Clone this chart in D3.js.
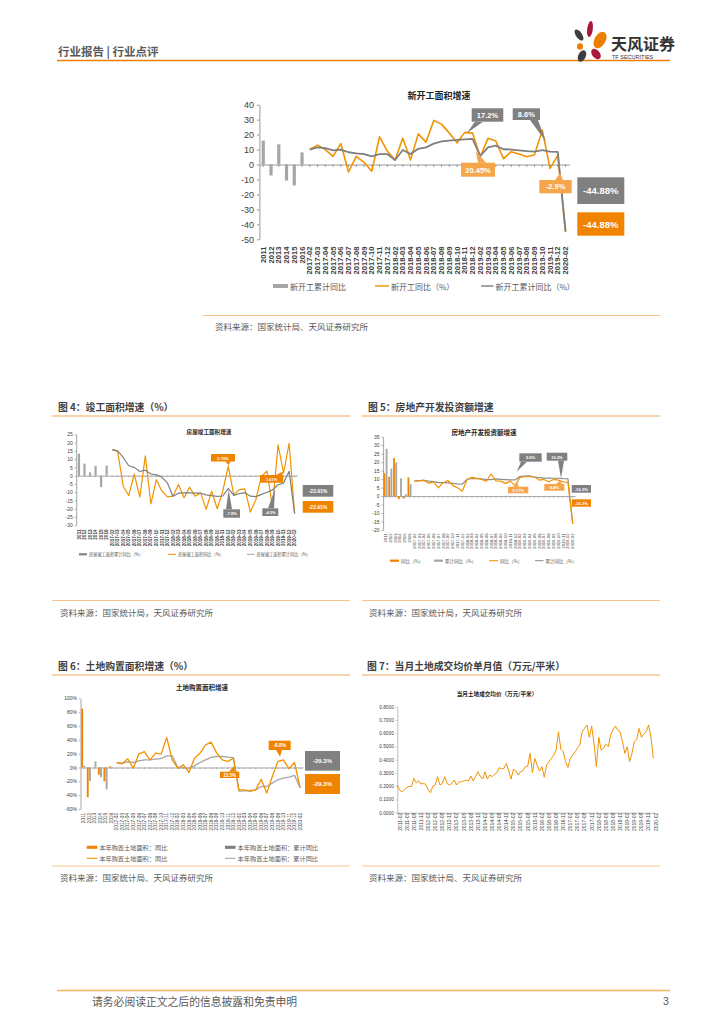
<!DOCTYPE html>
<html><head><meta charset="utf-8">
<script src="https://cdn.jsdelivr.net/npm/d3@7"></script>
<style>body{margin:0;background:#fff}svg{display:block}</style>
</head><body>
<svg id="page" width="724" height="1024"></svg>
<script>
// ---------------- DATA ----------------
const annualYears = ["2011","2012","2013","2014","2015","2016"];
const monthCats = ["2017-02","2017-03","2017-04","2017-05","2017-06","2017-07","2017-08","2017-09","2017-10","2017-11","2017-12",
  "2018-02","2018-03","2018-04","2018-05","2018-06","2018-07","2018-08","2018-09","2018-10","2018-11","2018-12",
  "2019-02","2019-03","2019-04","2019-05","2019-06","2019-07","2019-08","2019-09","2019-10","2019-11","2019-12","2020-02"];

// 新开工面积增速
const newStartAnnual = [16, -7.3, 13.5, -10.7, -14, 8.1];
const newStartMonthly = [10, 13, 10, 5.5, 14, -5, 5.5, 1.5, -4.5, 18.5, 9,
  3, 17.5, 3, 20.5, 15, 29.5, 27, 21, 14.5, 21.5, 21,
  5.2, 17.5, 15.7, 3.9, 8.6, 7, 5.2, 6.6, 23, -2.6, 6.1, -44.88];
const newStartCum = [10, 11.5, 11, 9.5, 10, 8.2, 7.5, 7, 5.5, 7, 7,
  3, 9.7, 7, 10.5, 11.5, 14, 15.5, 16, 16.5, 16.8, 17.2,
  5.7, 11.5, 12.6, 10.2, 10, 9.4, 8.9, 8.6, 9.6, 8.6, 8.5, -44.88];

// 房屋竣工面积增速
const completedAnnual = [13.3, 7.3, 2, 5.9, -6.9, 6.1];
const completedMonthly = [15.7, 14.7, -6.4, -12, 1, -13, 12, -17, -2.4, -9.4, -12.8,
  -12.4, -5.4, -13.4, -7, -12.4, -10.4, -20.4, -9.4, -20, -9.4, 5.76,
  -11.6, -8.4, -8, -22, -14.4, -0.4, 2.8, -19.4, 18.6, 1.61, 19.6, -22.91];
const completedCum = [15.7, 15, 11, 6, 5, 2.5, 3.3, 1, 0.5, -1, -4.4,
  -12.4, -10.6, -10.4, -10.4, -10.5, -10.6, -11.6, -12.1, -12.5, -12.3, -7.8,
  -11.9, -10.8, -10.3, -12.4, -12.7, -11.3, -10, -8.6, -5.5, -4.5, 2.6, -22.91];

// 房地产开发投资额增速
const investAnnualYoY = [13.5, 11.4, 22.4, -1.8, -1.5, 11];
const investAnnualCum = [27.9, 16.2, 19.8, 10.5, 1.0, 6.9];
const investMonthly = [8.8, 9, 9.4, 7.5, 8.4, 4.9, 7.9, 9.2, 6.3, 4.9, 2.9,
  9.8, 11, 10.4, 9.8, 8.8, 13, 9, 8.8, 7.5, 8.8, 6.17,
  11, 11.4, 11.4, 11.4, 9.4, 9.8, 8.4, 9.8, 9.4, 8.4, 8, -16.3];
const investCum = [8.9, 9.1, 9.3, 8.8, 8.5, 7.9, 7.9, 7.8, 7.5, 7.2, 7.0,
  9.9, 10.4, 10.3, 10.2, 9.7, 9.7, 10.1, 9.9, 9.7, 9.5, 9.5,
  11.6, 11.8, 11.9, 11.2, 10.9, 10.6, 10.6, 10.5, 10.5, 10.3, 10.2, -16.3];

// 土地购置面积增速
const landAnnualYoY = [85, -43, 0, -10.6, -20, 2];
const landAnnualCum = [2.6, -19.5, 8.8, -14, -31.7, -1];
const landMonthly = [7.2, 5.3, 12.5, -1, 19.7, 23, 11, 20.7, 19.3, 43.4, 11,
  -1.4, 3.9, -7.2, 13.5, 20.7, 32.8, 36.6, 20.7, 11, 8.7, 13.5,
  -32.3, -32.3, -34.7, -32.3, -16.9, -37, -13, 8.7, 11, -1.9, 7.2, -29.3];
const landCum = [7, 6.3, 8, 7.2, 9.6, 11, 11, 12, 13, 16.9, 16.9,
  0, 0, -1.4, 2.4, 7.2, 11, 14.5, 15.9, 15.9, 14.9, 14.2,
  -34.1, -33.8, -33.2, -32.3, -27.5, -27.5, -22.6, -17.8, -15.4, -14, -11.4, -29.3];

// 当月土地成交均价（万元/平米）
const priceMonths = [];
for (let yr = 2011; yr <= 2020; yr++) for (let m = 1; m <= 12; m++) {
  if ((yr === 2011 && m < 2) || (yr === 2020 && m > 2)) continue;
  priceMonths.push(yr + "-" + String(m).padStart(2, "0"));
}
const priceTickLabels = ["2011-02","2011-05","2011-08","2011-11","2012-02","2012-05","2012-08","2012-11",
  "2013-02","2013-05","2013-08","2013-11","2014-02","2014-05","2014-08","2014-11","2015-02","2015-05","2015-08","2015-11",
  "2016-02","2016-05","2016-08","2016-11","2017-02","2017-05","2017-08","2017-11","2018-02","2018-05","2018-08","2018-11",
  "2019-02","2019-05","2019-08","2019-11","2020-02"];
const landPrice = [0.209,0.171,0.158,0.175,0.190,0.200,0.196,0.259,0.226,0.241,0.216,0.221,0.214,0.171,0.151,0.201,
  0.209,0.272,0.209,0.221,0.272,0.221,0.209,0.221,0.247,0.209,0.229,0.235,0.239,0.247,0.239,0.277,0.241,0.272,
  0.309,0.277,0.254,0.309,0.254,0.284,0.272,0.290,0.302,0.340,0.330,0.335,0.372,0.317,0.254,0.327,0.317,0.284,
  0.309,0.317,0.347,0.350,0.448,0.302,0.410,0.360,0.314,0.347,0.267,0.360,0.385,0.410,0.435,0.473,0.611,0.478,
  0.460,0.385,0.342,0.410,0.435,0.460,0.486,0.511,0.611,0.636,0.662,0.569,0.654,0.523,0.347,0.569,0.473,0.486,
  0.518,0.498,0.586,0.624,0.654,0.624,0.611,0.536,0.448,0.498,0.385,0.448,0.536,0.553,0.636,0.569,0.594,0.611,
  0.662,0.574,0.410];

const yTicksTop = [-50,-40,-30,-20,-10,0,10,20,30,40];
const yTicksF4 = [-30,-25,-20,-15,-10,-5,0,5,10,15,20,25];
const yTicksF5 = [-20,-15,-10,-5,0,5,10,15,20,25,30,35];
const yTicksF6 = [-60,-40,-20,0,20,40,60,80,100];
const yTicksF7 = [0,0.1,0.2,0.3,0.4,0.5,0.6,0.7,0.8];

// ---------------- DRAWING ----------------
const svg = d3.select("#page");
const LAT = "'Liberation Sans','Noto Sans CJK SC',Arial,sans-serif";
const CJK = "'Noto Sans CJK SC','Liberation Sans',sans-serif";
const ORANGE = "#f39200", ORANGE_BOX = "#f08300", ORANGE_LIGHT = "#f5a64a";
const GRAY_LINE = "#7f7f7f", GRAY_BAR = "#a6a6a6", GRAY_BOX = "#808080";
const TXT = "#404040";

function txt(g, x, y, s, o = {}) {
  return g.append("text").attr("x", x).attr("y", y).text(s)
    .attr("font-family", o.ff || CJK).attr("font-size", o.fs || 10)
    .attr("font-weight", o.fw || "normal").attr("fill", o.fill || "#333")
    .attr("text-anchor", o.anchor || "start").attr("dominant-baseline", "central");
}
function hline(x1, x2, y, color, w) {
  svg.append("line").attr("x1", x1).attr("x2", x2).attr("y1", y).attr("y2", y)
    .attr("stroke", color).attr("stroke-width", w);
}
function callout(g, box, color, text, fs, tip, base) {
  if (tip) g.append("path")
    .attr("d", `M${base[0]},${base[1]}L${tip[0]},${tip[1]}L${base[2]},${base[3]}Z`).attr("fill", color);
  g.append("rect").attr("x", box[0]).attr("y", box[1]).attr("width", box[2]).attr("height", box[3]).attr("fill", color);
  txt(g, box[0] + box[2] / 2, box[1] + box[3] / 2 + 0.3, text, {ff: LAT, fs, fw: "bold", fill: "#fff", anchor: "middle"});
}
function legend(g, type, x, y, w, color, label, fs, gap) {
  if (type === "bar") g.append("rect").attr("x", x).attr("y", y - fs * 0.25).attr("width", w).attr("height", fs * 0.5).attr("fill", color);
  else g.append("line").attr("x1", x).attr("x2", x + w).attr("y1", y).attr("y2", y).attr("stroke", color).attr("stroke-width", Math.max(1, fs * 0.18));
  txt(g, x + w + (gap || 2), y, label, {fs, fill: "#595959"});
}

function catChart(c) {
  const g = svg.append("g");
  const cats = annualYears.concat(monthCats);
  const x = d3.scaleBand().domain(cats).range(c.xr).padding(0);
  const y = d3.scaleLinear().domain(c.yd).range(c.yr);
  const cx = i => x(cats[i]) + x.bandwidth() / 2;

  const ya = g.append("g").attr("transform", `translate(${c.xr[0]},0)`)
    .call(d3.axisLeft(y).tickValues(c.yticks).tickSize(c.tick).tickSizeOuter(0).tickPadding(c.ypad).tickFormat(c.yfmt || (d => d)));
  ya.select(".domain").attr("stroke", c.axisColor);
  ya.selectAll(".tick line").attr("stroke", c.axisColor);
  ya.selectAll("text").attr("font-family", LAT).attr("font-size", c.yfs).attr("fill", TXT);

  const xa = g.append("g").attr("transform", `translate(0,${y(0)})`)
    .call(d3.axisBottom(x).tickSize(c.tick).tickSizeOuter(0).tickFormat(""));
  xa.select(".domain").attr("stroke", c.axisColor);
  xa.selectAll(".tick line").attr("stroke", c.axisColor);

  const xl = g.append("g").attr("transform", `translate(0,${c.labelTop})`)
    .call(d3.axisBottom(x).tickSize(0).tickPadding(0));
  xl.select(".domain").remove();
  xl.selectAll("text").attr("y", 0).attr("x", 0).attr("dy", "0.35em").attr("transform", "rotate(-90)")
    .attr("text-anchor", "end").attr("font-family", LAT).attr("font-size", c.xfs)
    .attr("font-weight", c.xfw || "normal").attr("fill", TXT);

  c.bars.forEach(b => {
    g.selectAll(null).data(b.values).join("rect")
      .attr("x", (d, i) => cx(i) + (b.offset || 0) - b.width / 2)
      .attr("y", d => Math.min(y(d), y(0))).attr("width", b.width)
      .attr("height", d => Math.abs(y(d) - y(0))).attr("fill", b.color);
  });
  c.lines.forEach(l => {
    g.append("path").datum(l.values)
      .attr("d", d3.line().x((d, i) => cx(6 + i)).y(d => y(d)))
      .attr("fill", "none").attr("stroke", l.color).attr("stroke-width", l.width).attr("stroke-linejoin", "round");
  });
  return {g, x, y, cx};
}

// ---- page header ----
txt(svg, 58, 51, "行业报告 | 行业点评", {fs: 11.5, fw: "bold", fill: "#595959"});
hline(57, 670, 60.5, "#ee7d00", 1.6);
const logo = svg.append("g");
[[579, 35, 3, 6.5, -35, "#3d3d3d"], [590, 29, 2.8, 8, 8, "#a8193a"], [600, 40, 5.5, 9, 30, "#ee7f00"],
 [580, 46.5, 3, 3.2, 0, "#ee7f00"], [596, 54, 3.8, 6, -40, "#a8193a"], [582, 56, 3.8, 6, 25, "#3d3d3d"]]
  .forEach(p => logo.append("ellipse").attr("cx", 0).attr("cy", 0).attr("rx", p[2]).attr("ry", p[3])
    .attr("transform", `translate(${p[0]},${p[1]}) rotate(${p[4]})`).attr("fill", p[5]));
txt(svg, 611, 43, "天风证券", {fs: 16, fw: "bold", fill: "#333"});
txt(svg, 612, 56.5, "TF SECURITIES", {ff: LAT, fs: 5.5, fill: "#333"});

// ---- footer ----
hline(57, 670, 990.5, "#f6b25e", 1.5);
txt(svg, 92, 1001, "请务必阅读正文之后的信息披露和免责申明", {fs: 10.8, fill: "#595959"});
txt(svg, 663, 1001, "3", {ff: LAT, fs: 10.5, fill: "#595959"});

// ---- top chart: 新开工面积增速 ----
catChart({xr: [259.4, 569.4], yd: [-50, 40], yr: [239.3, 104.7], yticks: yTicksTop,
  tick: 2.5, ypad: 3, yfs: 9, axisColor: "#999", labelTop: 246.5, xfs: 7.6, xfw: "bold",
  bars: [{values: newStartAnnual, width: 3.2, color: GRAY_BAR}],
  lines: [{values: newStartMonthly, color: ORANGE, width: 1.6}, {values: newStartCum, color: GRAY_LINE, width: 1.8}]});
txt(svg, 439, 95, "新开工面积增速", {fs: 9, fw: "bold", fill: "#222", anchor: "middle"});
callout(svg, [471.7, 108.3, 31.6, 13.4], GRAY_BOX, "17.2%", 7.5, [466.7, 133.3], [475, 121.7, 483, 121.7]);
callout(svg, [512.7, 108.3, 27.3, 11.7], GRAY_BOX, "8.6%", 7.5, [546, 141.7], [530, 120, 538, 120]);
callout(svg, [461, 162.7, 34, 14], ORANGE_LIGHT, "20.45%", 7.5, [475.7, 150.7], [478, 162.7, 486, 162.7]);
callout(svg, [539.3, 180, 32.4, 13.3], ORANGE_LIGHT, "-2.9%", 7.5, [560, 173.3], [555, 180, 563, 180]);
callout(svg, [577.3, 177.3, 47, 26.7], GRAY_BOX, "-44.88%", 9.5);
callout(svg, [577.3, 212.3, 47, 23.4], ORANGE_BOX, "-44.88%", 9.5);
legend(svg, "bar", 273, 286, 15, GRAY_BAR, "新开工累计同比", 8);
legend(svg, "line", 375, 286, 14, ORANGE, "新开工同比（%）", 8);
legend(svg, "line", 481, 286, 12.5, GRAY_LINE, "新开工累计同比（%）", 8);
hline(203, 660, 315.5, "#f6c48f", 1);
txt(svg, 215, 326, "资料来源：国家统计局、天风证券研究所", {fs: 8.5, fill: "#595959"});

// ---- section headers ----
txt(svg, 58, 407, "图 4：竣工面积增速（%）", {fs: 9.8, fw: "bold", fill: "#404040"});
txt(svg, 368, 407, "图 5：房地产开发投资额增速", {fs: 9.8, fw: "bold", fill: "#404040"});
hline(52, 350, 416, "#f6c48f", 1.4);
hline(362, 660, 416, "#f6c48f", 1.4);
hline(52, 350, 600.5, "#f6c48f", 1);
hline(362, 660, 600.5, "#f6c48f", 1);
txt(svg, 60, 611.5, "资料来源：国家统计局，天风证券研究所", {fs: 8.5, fill: "#595959"});
txt(svg, 369, 611.5, "资料来源：国家统计局，天风证券研究所", {fs: 8.5, fill: "#595959"});

txt(svg, 58, 666, "图 6：土地购置面积增速（%）", {fs: 9.8, fw: "bold", fill: "#404040"});
txt(svg, 367, 666, "图 7：当月土地成交均价单月值（万元/平米）", {fs: 9.8, fw: "bold", fill: "#404040"});
hline(52, 350, 675, "#f6c48f", 1.4);
hline(362, 660, 675, "#f6c48f", 1.4);
hline(52, 350, 866, "#f6c48f", 1);
hline(362, 660, 866, "#f6c48f", 1);
txt(svg, 60, 877, "资料来源：国家统计局、天风证券研究所", {fs: 8.5, fill: "#595959"});
txt(svg, 369, 877, "资料来源：国家统计局、天风证券研究所", {fs: 8.5, fill: "#595959"});

// ---- Fig 4 ----
catChart({xr: [76.2, 297.4], yd: [-30, 25], yr: [525.3, 434.3], yticks: yTicksF4,
  tick: 1.5, ypad: 2, yfs: 5, axisColor: "#a6a6a6", labelTop: 529.5, xfs: 4.6, xfw: "bold",
  bars: [{values: completedAnnual, width: 2.2, color: GRAY_BAR}],
  lines: [{values: completedMonthly, color: ORANGE, width: 1.2}, {values: completedCum, color: GRAY_LINE, width: 1.2}]});
txt(svg, 209, 432, "房屋竣工面积增速", {fs: 5.6, fw: "bold", fill: "#222", anchor: "middle"});
callout(svg, [211, 454, 24, 7.5], ORANGE_BOX, "5.76%", 4, [228.3, 465], [225, 461.5, 231, 461.5]);
callout(svg, [223.3, 509.3, 16.7, 8.4], GRAY_BOX, "-7.8%", 4, [228.7, 490], [226, 509.3, 232, 509.3]);
callout(svg, [260, 475, 23.3, 7.7], ORANGE_BOX, "1.61%", 4, [284, 471], [276, 475, 282, 475]);
callout(svg, [262.3, 508.3, 16, 7.7], GRAY_BOX, "-4.5%", 4, [275, 489], [268, 508.3, 274, 508.3]);
callout(svg, [302.7, 485, 30.6, 11.7], GRAY_BOX, "-22.91%", 5);
callout(svg, [302.7, 501, 30.6, 11.7], ORANGE_BOX, "-22.91%", 5);
legend(svg, "bar", 79, 554.3, 8, GRAY_LINE, "房屋竣工面积累计同比（%）", 4.2);
legend(svg, "line", 168, 554.3, 8, ORANGE, "房屋竣工面积同比（%）", 4.2);
legend(svg, "line", 247, 554.3, 7.5, GRAY_BAR, "房屋竣工面积累计同比（%）", 4.2);

// ---- Fig 5 ----
catChart({xr: [383.1, 575.1], yd: [-20, 35], yr: [530, 436.7], yticks: yTicksF5,
  tick: 1.5, ypad: 2, yfs: 5, axisColor: "#a6a6a6", labelTop: 533.5, xfs: 4.2,
  bars: [{values: investAnnualYoY, width: 1.8, offset: -1.1, color: ORANGE_BOX},
         {values: investAnnualCum, width: 1.8, offset: 1.1, color: GRAY_BAR}],
  lines: [{values: investCum, color: "#8c8c8c", width: 1.2}, {values: investMonthly, color: ORANGE, width: 1.2}]});
txt(svg, 484, 432, "房地产开发投资额增速", {fs: 6.5, fw: "bold", fill: "#222", anchor: "middle"});
callout(svg, [519.3, 453.3, 22.4, 8.4], GRAY_BOX, "9.5%", 4, [516.7, 471.7], [521, 461.7, 527, 461.7]);
callout(svg, [546.7, 452.7, 20.6, 8], GRAY_BOX, "10.2%", 4, [561, 478.3], [558, 460.7, 564, 460.7]);
callout(svg, [508, 486.7, 20.3, 6.6], ORANGE_LIGHT, "6.17%", 4, [516.7, 481.7], [513, 486.7, 519, 486.7]);
callout(svg, [544.3, 484, 20, 6.7], ORANGE_LIGHT, "8.4%", 4, [560, 480.7], [556, 484, 562, 484]);
callout(svg, [571.7, 485, 19.3, 7.7], GRAY_BOX, "-16.3%", 4.2);
callout(svg, [571.7, 499.3, 19.3, 7.4], ORANGE_BOX, "-16.3%", 4.2);
legend(svg, "bar", 390, 560.7, 9, ORANGE_BOX, "同比（%）", 4.5);
legend(svg, "bar", 434, 560.7, 9, GRAY_BAR, "累计同比（%）", 4.5);
legend(svg, "line", 489, 560.7, 9, ORANGE, "同比（%）", 4.5);
legend(svg, "line", 535, 560.7, 8.5, "#8c8c8c", "累计同比（%）", 4.5);

// ---- Fig 6 ----
catChart({xr: [80.5, 302.9], yd: [-60, 100], yr: [809, 698.3], yticks: yTicksF6, yfmt: d => d + "%",
  tick: 1.5, ypad: 2, yfs: 5, axisColor: "#a6a6a6", labelTop: 812.8, xfs: 4.8,
  bars: [{values: landAnnualYoY, width: 1.9, offset: -1.1, color: ORANGE_BOX},
         {values: landAnnualCum, width: 1.9, offset: 1.1, color: GRAY_BAR}],
  lines: [{values: landCum, color: GRAY_BAR, width: 1.3}, {values: landMonthly, color: ORANGE, width: 1.3}]});
txt(svg, 202, 687, "土地购置面积增速", {fs: 6.5, fw: "bold", fill: "#222", anchor: "middle"});
callout(svg, [220, 771.7, 19.3, 6.3], ORANGE_BOX, "13.5%", 4.5, [234, 766], [229, 771.7, 235, 771.7]);
callout(svg, [268.7, 740.7, 22, 9.3], ORANGE_BOX, "-8.8%", 4.8, [280, 756.7], [276, 750, 282, 750]);
callout(svg, [305, 751, 35, 19.7], GRAY_BOX, "-29.3%", 6);
callout(svg, [305, 774, 35, 20], ORANGE_BOX, "-29.3%", 6);
legend(svg, "bar", 86.7, 847.3, 10.6, ORANGE_BOX, "本年购置土地面积：同比", 6.2);
legend(svg, "bar", 225, 847.3, 10.6, GRAY_LINE, "本年购置土地面积：累计同比", 6.2);
legend(svg, "line", 86.7, 858.3, 10.6, ORANGE, "本年购置土地面积：同比", 6.2);
legend(svg, "line", 225, 858.3, 10.6, GRAY_BAR, "本年购置土地面积：累计同比", 6.2);

// ---- Fig 7 ----
(function () {
  const g = svg.append("g");
  const x = d3.scalePoint().domain(priceMonths).range([397.3, 653.3]);
  const y = d3.scaleLinear().domain([0, 0.8]).range([812.7, 706.7]);
  const ya = g.append("g").attr("transform", "translate(397.3,0)")
    .call(d3.axisLeft(y).tickValues(yTicksF7).tickSize(1.5).tickSizeOuter(0).tickPadding(2).tickFormat(d3.format(".4f")));
  ya.select(".domain").attr("stroke", "#bfbfbf");
  ya.selectAll(".tick line").attr("stroke", "#bfbfbf");
  ya.selectAll("text").attr("font-family", LAT).attr("font-size", 4.8).attr("fill", TXT);
  const xa = g.append("g").attr("transform", "translate(0,812.7)")
    .call(d3.axisBottom(x).tickValues(priceTickLabels).tickSize(1.5).tickSizeOuter(0).tickPadding(1.5));
  xa.select(".domain").attr("stroke", "#bfbfbf");
  xa.selectAll(".tick line").attr("stroke", "#bfbfbf");
  xa.selectAll("text").attr("y", 2).attr("x", 0).attr("dy", "0.35em").attr("transform", "rotate(-90)")
    .attr("text-anchor", "end").attr("font-family", LAT).attr("font-size", 5).attr("fill", TXT);
  g.append("path").datum(landPrice)
    .attr("d", d3.line().x((d, i) => x(priceMonths[i])).y(d => y(d)))
    .attr("fill", "none").attr("stroke", ORANGE).attr("stroke-width", 1).attr("stroke-linejoin", "round");
  txt(svg, 497, 693.5, "当月土地成交均价（万元/平米）", {fs: 5.6, fw: "bold", fill: "#222", anchor: "middle"});
})();
</script>
</body></html>
